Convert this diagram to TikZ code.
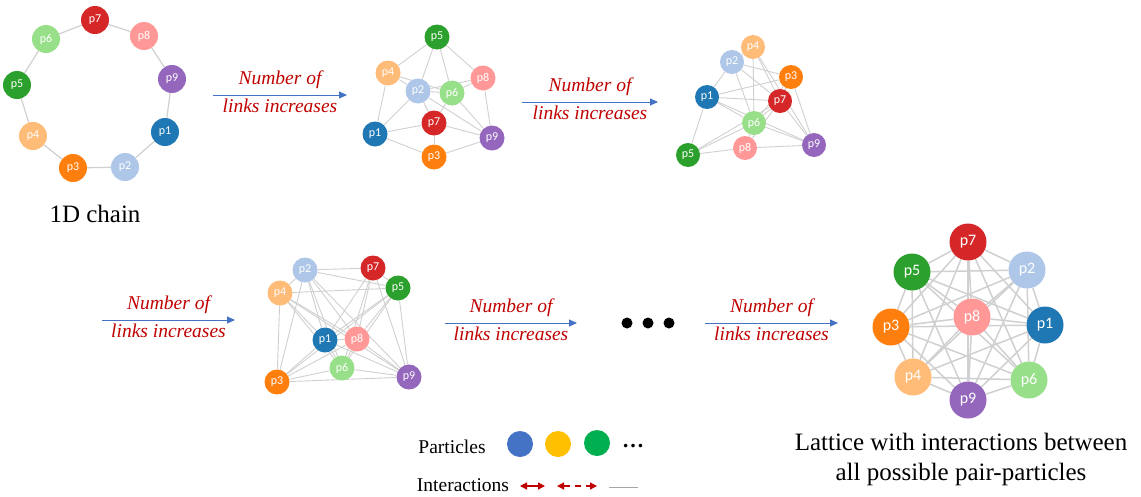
\documentclass[tikz,border=0pt]{standalone}
\usepackage{fontspec}
\setmainfont{Liberation Serif}
\newfontfamily\labelfont{Carlito}
\usetikzlibrary{arrows.meta, backgrounds}
\definecolor{c1}{HTML}{1F77B4}
\definecolor{c2}{HTML}{AEC7E8}
\definecolor{c3}{HTML}{FF7F0E}
\definecolor{c4}{HTML}{FFBB78}
\definecolor{c5}{HTML}{2CA02C}
\definecolor{c6}{HTML}{98DF8A}
\definecolor{c7}{HTML}{D62728}
\definecolor{c8}{HTML}{FF9896}
\definecolor{c9}{HTML}{9467BD}
\definecolor{linkGray}{HTML}{D0D0D0}
\definecolor{arrowBlue}{HTML}{4472C4}
\definecolor{labelRed}{HTML}{C00000}
\definecolor{legBlue}{HTML}{4472C4}
\definecolor{legYellow}{HTML}{FFC000}
\definecolor{legGreen}{HTML}{00B050}

\begin{document}
\begin{tikzpicture}[x=1pt, y=-1pt,
    part/.style={circle, inner sep=0pt, minimum size=#1, text=white,
      font=\labelfont\fontsize{12}{12}\selectfont},
    link/.style={draw=linkGray, line width=0.9pt},
    arr/.style={-{Triangle[length=8pt, width=7pt]}, line width=1pt, arrowBlue},
    lbl/.style={font=\fontsize{19.5}{22}\selectfont\itshape, text=labelRed},
    caption/.style={font=\fontsize{25}{30}\selectfont, align=center},
    legend/.style={font=\fontsize{19.5}{22}\selectfont},
    inter/.style={{Triangle[length=7pt, width=7pt]}-{Triangle[length=7pt, width=7pt]},
      line width=1.3pt, labelRed}]
  \useasboundingbox (0,0) rectangle (1141,496);

  % 1D chain
  \foreach \n/\x/\y in {1/165/132, 2/125/167, 3/73/168, 4/33/136, 5/17/85,
      6/46/39, 7/95/20, 8/144/36, 9/172/79}
    \node[part=28pt, fill=c\n] (a\n) at (\x,\y) {p\n};
  \node[caption] (chain) at (95,214) {1D chain};

  % more links
  \foreach \n/\x/\y in {1/375/134, 2/418/91, 3/434/157, 4/388/73, 5/437/37,
      6/452/93, 7/434/123, 8/483/78, 9/492/138}
    \node[part=25pt, fill=c\n] (b\n) at (\x,\y) {p\n};
  \foreach \n/\x/\y in {1/707/97, 2/732/62, 3/791/77, 4/753/47, 5/688/155,
      6/754/123, 7/780/101, 8/745/148, 9/814/145}
    \node[part=24pt, fill=c\n] (c\n) at (\x,\y) {p\n};
  \foreach \n/\x/\y in {1/325/340, 2/305/270, 3/277/382, 4/280/293, 5/398/288,
      6/342/368, 7/373/268, 8/357/339, 9/409/377}
    \node[part=25pt, fill=c\n] (d\n) at (\x,\y) {p\n};

  % all pairs
  \foreach \n/\x/\y in {1/1045/325, 2/1027/270, 3/891/327, 4/913/377, 5/912/272,
      6/1029/380, 7/968/242, 8/972/317, 9/968/400}
    \node[part=37pt, fill=c\n, font=\labelfont\fontsize{16}{16}\selectfont] (e\n) at (\x,\y) {p\n};
  \node[caption] (lattice) at (961,459) {Lattice with interactions between\\all possible pair-particles};

  \begin{scope}[on background layer]
    \foreach \a/\b in {7/8, 8/9, 9/1, 1/2, 2/3, 3/4, 4/5, 5/6, 6/7}
      \draw[link, line width=1.2pt] (a\a) -- (a\b);
    \foreach \a/\b in {5/4, 5/2, 5/6, 5/8, 4/2, 4/6, 4/1, 2/6, 2/1, 2/7, 2/8,
        6/8, 6/7, 6/9, 8/9, 1/7, 1/3, 7/3, 7/9, 3/9, 2/9}
      \draw[link] (b\a) -- (b\b);
    \foreach \a/\b in {2/4, 2/1, 2/3, 2/7, 2/6, 4/6, 4/7, 4/9, 1/3, 1/7, 1/6,
        1/5, 1/9, 3/7, 3/9, 3/6, 7/6, 7/9, 7/8, 6/5, 6/8, 6/9, 5/8, 8/9, 5/7}
      \draw[link] (c\a) -- (c\b);
    \foreach \a/\b in {2/7, 2/5, 2/4, 2/1, 2/8, 2/6, 2/9, 2/3, 4/5, 4/1, 4/8,
        4/3, 4/9, 4/6, 7/5, 7/1, 7/8, 7/6, 7/9, 5/8, 5/1, 5/6, 5/9, 5/3, 1/8,
        1/3, 1/6, 1/9, 8/6, 8/3, 8/9, 6/3, 6/9, 3/9}
      \draw[link] (d\a) -- (d\b);
    \foreach \a in {1,...,8}{
      \pgfmathtruncatemacro\nxt{\a+1}
      \foreach \b in {\nxt,...,9}
        \draw[link, line width=1.5pt] (e\a) -- (e\b);
    }
  \end{scope}

  % arrows between stages
  \foreach \i/\xa/\xb/\y in {1/213/347/95, 2/522/658/102, 3/102/235/320,
      4/445/577/323, 5/705/838/323}{
    \coordinate (s\i) at (\xa,\y);
    \coordinate (t\i) at (\xb,\y);
    \draw[arr] (s\i) -- (t\i);
    \pgfmathsetmacro\xm{(\xa+\xb)/2}
    \node[lbl] (num\i) at (\xm,\y-15) {Number of};
    \node[lbl] (inc\i) at (\xm,\y+11) {links increases};
  }
  \foreach \i/\x in {1/627, 2/648, 3/669}
    \node[circle, fill=black, inner sep=0pt, minimum size=11pt] (dot\i) at (\x,323) {};

  % legend
  \node[legend] (particles) at (452,447) {Particles};
  \node[circle, fill=legBlue, minimum size=26pt, inner sep=0pt] (qa) at (520,444) {};
  \node[circle, fill=legYellow, minimum size=26pt, inner sep=0pt] (qb) at (558,444) {};
  \node[circle, fill=legGreen, minimum size=26pt, inner sep=0pt] (qc) at (597,443) {};
  \node[font=\fontsize{22}{22}\selectfont\bfseries] (more) at (633,446) {…};
  \node[legend] (interactions) at (463,485) {Interactions};
  \coordinate (ia) at (520,486); \coordinate (ib) at (545,486);
  \coordinate (ic) at (557,486); \coordinate (id) at (597,486);
  \coordinate (ie) at (609,487); \coordinate (iff) at (638,487);
  \draw[inter] (ia) -- (ib);
  \draw[inter, dash pattern=on 6pt off 5pt] (ic) -- (id);
  \draw[draw=gray!70, line width=0.8pt] (ie) -- (iff);
\end{tikzpicture}
\end{document}
